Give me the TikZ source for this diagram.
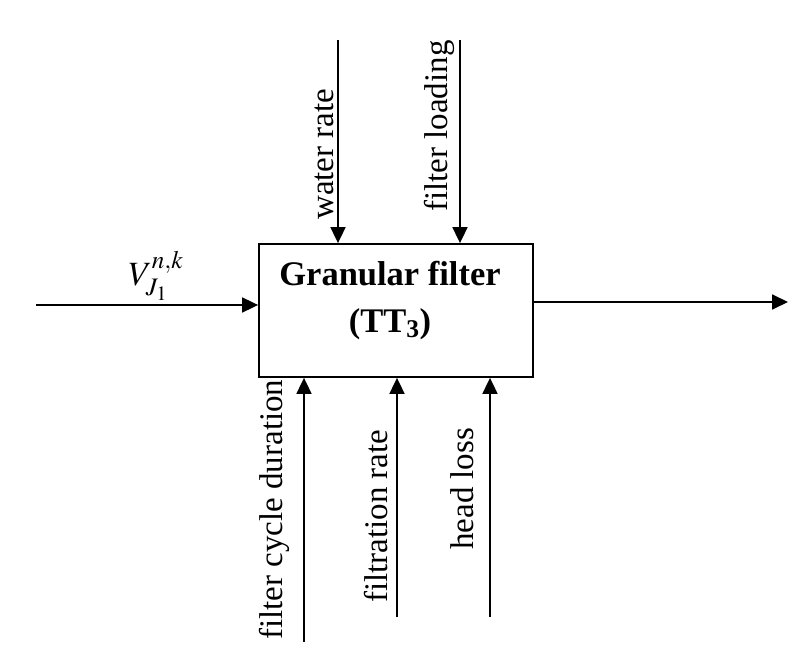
\documentclass[tikz,border=0pt]{standalone}
\usepackage{mathptmx}
\usepackage{fontspec}
\setmainfont{Liberation Serif}
\usetikzlibrary{arrows.meta}
\begin{document}
\begin{tikzpicture}
            [x=1pt,y=1pt,
             flow/.style ={-{Triangle[length=16pt,width=15pt]},line width=1.8pt},
             side/.style ={rotate=90,anchor=base west,inner sep=0pt,font=\fontsize{33}{40}\selectfont}]
            \useasboundingbox (0,0) rectangle (792,656);
            \node[draw,line width=1.8pt,minimum width=274pt,minimum height=133pt] (filter) at (396,345.5){};
            \node[align=center,font=\bfseries\fontsize{34.5}{47}\selectfont] (name) at ([xshift=-6pt,yshift=10pt]filter.center){Granular filter\\(TT\textsubscript{3})};
            % inputs and output
            \coordinate (in) at (36,351);
            \coordinate (out) at (788,354);
            \draw[flow] (in) to (filter.west |- in);
            \draw[flow] (filter.east |- out) to (out);
            \node[font=\fontsize{34}{40}\selectfont] (vin) at (156,380){$V^{n,k}_{J_1}$};
            % controls from above
            \coordinate (wr) at (338,616);
            \coordinate (fl) at (460,616);
            \draw[flow] (wr) to (wr |- filter.north);
            \draw[flow] (fl) to (fl |- filter.north);
            \node[side] (wrlbl) at (333,436){water rate};
            \node[side] (fllbl) at (447,444){filter loading};
            % mechanisms from below
            \coordinate (fcd) at (304,14);
            \coordinate (fr) at (397,39);
            \coordinate (hl) at (490,39);
            \draw[flow] (fcd) to (fcd |- filter.south);
            \draw[flow] (fr) to (fr |- filter.south);
            \draw[flow] (hl) to (hl |- filter.south);
            \node[side] (fcdlbl) at (282,16){filter cycle duration};
            \node[side] (frlbl) at (387,53){filtration rate};
            \node[side] (hllbl) at (473,106){head loss};
        \end{tikzpicture}
\end{document}
